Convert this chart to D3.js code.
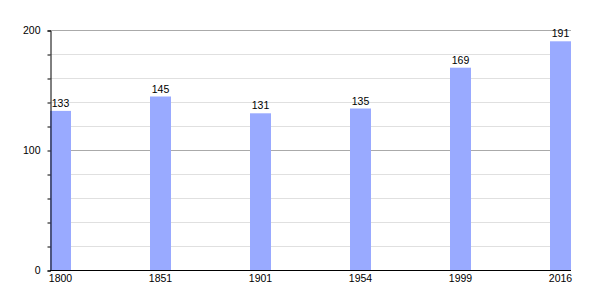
<!DOCTYPE html>
<html>
<head>
<meta charset="utf-8">
<script src="https://cdn.jsdelivr.net/npm/d3@7"></script>
<style>
  body { margin: 0; background: #fff; }
  text { font-family: "Liberation Sans", Arial, sans-serif; font-size: 10.5px; fill: #000; }
</style>
</head>
<body>
<div id="chart"></div>
<script>
var years = ["1800", "1851", "1901", "1954", "1999", "2016"];
var population = [133, 145, 131, 135, 169, 191];
var majorTicks = [0, 100, 200];
var minorTicks = d3.range(0, 201, 20);

var width = 600;
var height = 300;
var barWidth = 21;

var svg = d3.select("#chart")
  .append("svg")
  .attr("width", width)
  .attr("height", height);

var x = d3.scalePoint()
  .domain(years)
  .range([50, 550]);

var y = d3.scaleLinear()
  .domain([0, 200])
  .range([270.5, 30.5]);

// minor grid
svg.selectAll(".minor")
  .data(minorTicks.filter(d => d % 100 != 0))
  .enter()
  .append("line")
  .attr("x1", 50)
  .attr("x2", 571)
  .attr("y1", d => y(d))
  .attr("y2", d => y(d))
  .attr("stroke", "#e0e0e0");

// major grid
svg.selectAll(".major")
  .data(majorTicks.filter(d => d > 0))
  .enter()
  .append("line")
  .attr("x1", 50)
  .attr("x2", 571)
  .attr("y1", d => y(d))
  .attr("y2", d => y(d))
  .attr("stroke", "#aaaaaa");

// bars
svg.selectAll(".bar")
  .data(population)
  .enter()
  .append("rect")
  .attr("x", (d, i) => x(years[i]))
  .attr("width", barWidth)
  .attr("y", d => y(d))
  .attr("height", d => y(0) - y(d))
  .attr("fill", "#99aaff");

// value labels
svg.selectAll(".val")
  .data(population)
  .enter()
  .append("text")
  .attr("x", (d, i) => x(years[i]) + barWidth / 2)
  .attr("y", d => y(d) - 4)
  .attr("text-anchor", "middle")
  .text(d => d);

// y axis
var yAxis = d3.axisLeft(y)
  .tickValues(minorTicks)
  .tickSize(3)
  .tickFormat(d => majorTicks.includes(d) ? d : "");

var gy = svg.append("g")
  .attr("transform", "translate(50.5,0)")
  .call(yAxis);
gy.select(".domain").attr("stroke", "#000");
gy.selectAll(".tick line").attr("stroke", "#000");
gy.selectAll(".tick text")
  .attr("x", -10)
  .style("font-family", "Liberation Sans, Arial, sans-serif")
  .style("font-size", "10.5px");

// x axis line
svg.append("line")
  .attr("x1", 50)
  .attr("x2", 571)
  .attr("y1", y(0))
  .attr("y2", y(0))
  .attr("stroke", "#000");

// x labels
svg.selectAll(".year")
  .data(years)
  .enter()
  .append("text")
  .attr("x", d => x(d) + barWidth / 2)
  .attr("y", 282)
  .attr("text-anchor", "middle")
  .text(d => d);
</script>
</body>
</html>
